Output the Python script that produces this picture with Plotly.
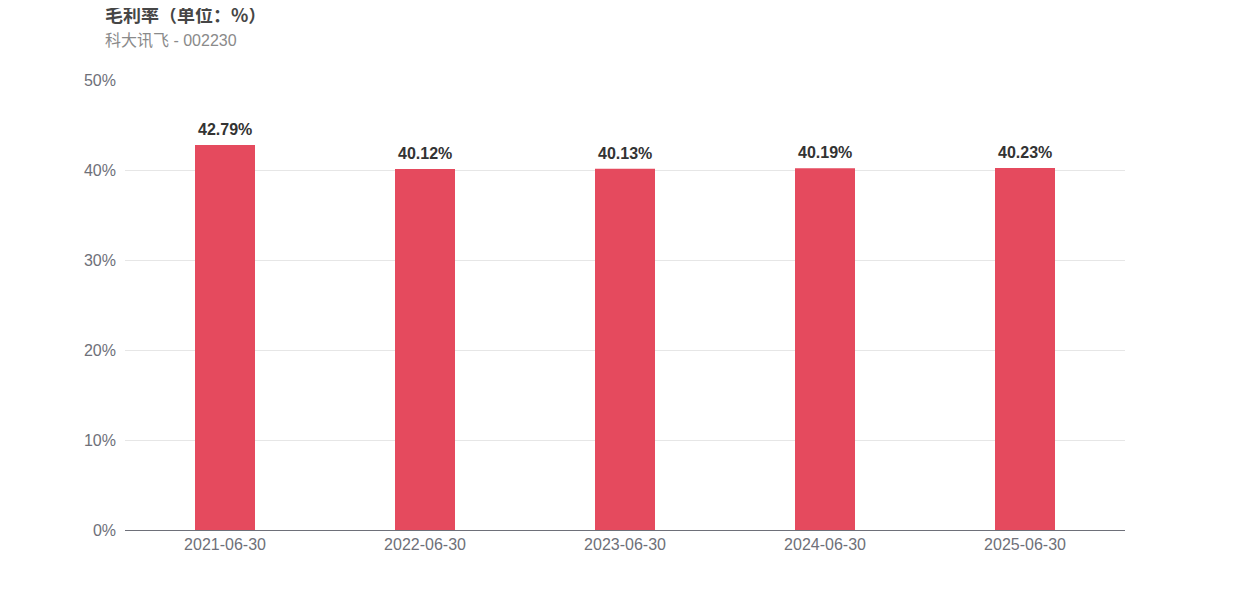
import plotly.graph_objects as go

categories = ["2021-06-30", "2022-06-30", "2023-06-30", "2024-06-30", "2025-06-30"]
values = [42.79, 40.12, 40.13, 40.19, 40.23]
labels = [f"{v:.2f}%" for v in values]
tick_vals = [0, 10, 20, 30, 40, 50]
tick_text = [f"{t}%" for t in tick_vals]

FONT = "Liberation Sans, Arial, Noto Sans CJK SC, sans-serif"

fig = go.Figure(go.Bar(
    x=categories, y=values,
    marker=dict(color="#E54A5E", line=dict(width=0)),
    width=0.3, hoverinfo="skip",
))

for c, v, t in zip(categories, values, labels):
    fig.add_annotation(x=c, y=v, text=f"<b>{t}</b>", showarrow=False,
                       xanchor="center", yanchor="bottom", yshift=5,
                       font=dict(family=FONT, size=16, color="#333333"))

fig.update_layout(
    width=1250, height=600,
    margin=dict(l=117, r=133, t=72, b=78),
    paper_bgcolor="white", plot_bgcolor="white",
    showlegend=False,
    font=dict(family=FONT),
    xaxis=dict(
        type="category",
        showgrid=False, showline=True, linecolor="#6E7079", linewidth=1,
        ticks="", tickfont=dict(size=16, color="#6E7079"),
        fixedrange=True,
    ),
    yaxis=dict(
        range=[0, 50], tickvals=tick_vals, ticktext=tick_text,
        showgrid=True, gridcolor="#E6E6E6", gridwidth=1,
        zeroline=False, showline=False, ticks="",
        tickfont=dict(size=16, color="#6E7079"), ticklabelstandoff=8,
        fixedrange=True,
    ),
)
fig.add_annotation(text="<b>毛利率（单位：%）</b>", xref="paper", yref="paper",
                   x=-22/1000, y=1 + 66/450, xanchor="left", yanchor="middle",
                   showarrow=False, font=dict(size=18, color="#464646", family="Noto Sans CJK SC, sans-serif"))
fig.add_annotation(text="科大讯飞 - 002230", xref="paper", yref="paper",
                   x=-22/1000, y=1 + 40/450, xanchor="left", yanchor="middle",
                   showarrow=False, font=dict(size=16, color="#8A8A8A", family=FONT))

fig.write_html("out.html")
